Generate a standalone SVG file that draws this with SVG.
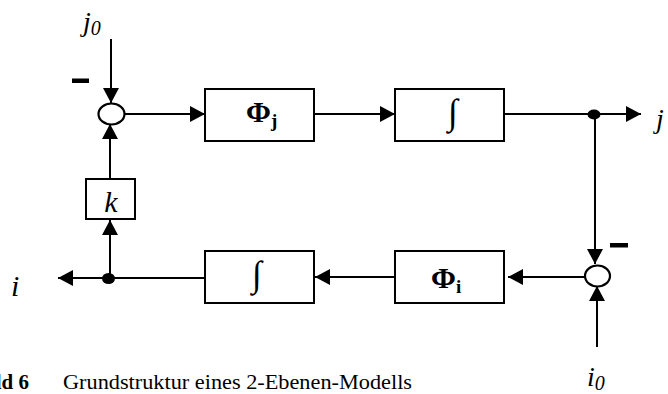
<svg xmlns="http://www.w3.org/2000/svg" width="668" height="394" viewBox="0 0 668 394">
<style>
.box{fill:#fff;stroke:#000;stroke-width:2}
.ln{fill:none;stroke:#000;stroke-width:2}
.sum{fill:#fff;stroke:#000;stroke-width:2.2}
.lbl{font-family:"Liberation Serif","Times New Roman",serif;fill:#000}
.it{font-style:italic}
.bd{font-weight:bold}
</style>
<defs>
<marker id="ah" markerUnits="userSpaceOnUse" markerWidth="15" markerHeight="16" refX="15" refY="8" orient="auto" viewBox="0 0 15 16">
<path d="M0,0 L15,8 L0,16 z" fill="#000"/>
</marker>
</defs>
<rect width="668" height="394" fill="#fff"/>
<g id="connectors">
<path class="ln" d="M111,39 L111,103" marker-end="url(#ah)"/>
<path class="ln" d="M124.5,114 L205,114" marker-end="url(#ah)"/>
<path class="ln" d="M314,114 L395,114" marker-end="url(#ah)"/>
<path class="ln" d="M504,114 L641,114" marker-end="url(#ah)"/>
<path class="ln" d="M595,114 L595,264" marker-end="url(#ah)"/>
<path class="ln" d="M597,347 L597,286" marker-end="url(#ah)"/>
<path class="ln" d="M585,277 L508,277" marker-end="url(#ah)"/>
<path class="ln" d="M395,277 L315,277" marker-end="url(#ah)"/>
<path class="ln" d="M205,278 L58,278" marker-end="url(#ah)"/>
<path class="ln" d="M110,278 L110,220" marker-end="url(#ah)"/>
<path class="ln" d="M110,179 L110,124" marker-end="url(#ah)"/>
<ellipse cx="594" cy="114.5" rx="6.5" ry="5"/>
<ellipse cx="108.5" cy="278.5" rx="6.5" ry="5.5"/>
</g>
<g id="sum1">
<ellipse class="sum" cx="111.5" cy="114" rx="13" ry="10.5"/>
<rect x="72" y="78.5" width="17" height="4.5"/>
</g>
<g id="sum2">
<ellipse class="sum" cx="597.5" cy="276" rx="12.5" ry="10.5"/>
<rect x="610" y="243" width="18" height="4.5"/>
</g>
<g id="phi_j">
<rect class="box" x="205" y="89" width="109" height="52"/>
<text class="lbl bd" x="246" y="122" font-size="30">Φ<tspan font-size="19" dy="5">j</tspan></text>
</g>
<g id="int_top">
<rect class="box" x="395" y="89" width="109" height="52"/>
<text class="lbl" x="453" y="124" font-size="36" text-anchor="middle">∫</text>
</g>
<g id="phi_i">
<rect class="box" x="395" y="251" width="109" height="52"/>
<text class="lbl bd" x="431" y="288" font-size="30">Φ<tspan font-size="19" dy="5">i</tspan></text>
</g>
<g id="int_bottom">
<rect class="box" x="205" y="251" width="109" height="52"/>
<text class="lbl" x="257" y="286" font-size="36" text-anchor="middle">∫</text>
</g>
<g id="k">
<rect class="box" x="86" y="179" width="49" height="40"/>
<text class="lbl it" x="111" y="212" font-size="30" text-anchor="middle">k</text>
</g>
<g id="labels">
<text class="lbl it" x="83" y="31" font-size="28">j<tspan font-size="20" dy="4">0</tspan></text>
<text class="lbl it" x="656" y="128" font-size="28">j</text>
<text class="lbl it" x="11" y="296" font-size="30">i</text>
<text class="lbl it" x="587" y="386" font-size="28">i<tspan font-size="20" dy="4">0</tspan></text>
<text class="lbl bd" x="29" y="389" font-size="21" text-anchor="end">Bild 6</text>
<text class="lbl" x="63" y="389" font-size="21" textLength="349" lengthAdjust="spacingAndGlyphs">Grundstruktur eines 2-Ebenen-Modells</text>
</g>
</svg>
